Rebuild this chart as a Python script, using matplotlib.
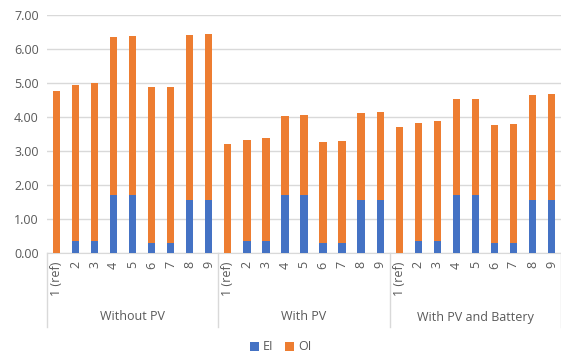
import numpy as np
import matplotlib.pyplot as plt
from matplotlib.transforms import blended_transform_factory

plt.rcParams['font.family'] = ['Open Sans', 'DejaVu Sans']

groups = ["Without PV", "With PV", "With PV and Battery"]
cases = ["1 (ref)", "2", "3", "4", "5", "6", "7", "8", "9"]
ei = [0.00, 0.36, 0.36, 1.71, 1.71, 0.30, 0.30, 1.55, 1.55]
total_no_pv = [4.75, 4.94, 4.99, 6.35, 6.38, 4.87, 4.87, 6.41, 6.44]
total_pv = [3.19, 3.33, 3.39, 4.02, 4.04, 3.27, 3.28, 4.11, 4.15]
total_batt = [3.70, 3.82, 3.89, 4.52, 4.53, 3.76, 3.78, 4.64, 4.67]

EI_COL = '#4472C4'
OI_COL = '#ED7D31'
TXT = '#595959'
GRID = '#D9D9D9'

ei_all = np.array(ei * 3)
tot_all = np.array(total_no_pv + total_pv + total_batt)
oi_all = tot_all - ei_all
labels = cases * 3
x = np.arange(len(labels))

fig = plt.figure(figsize=(5.61, 3.58), dpi=100)
W, H = 561, 358
left, right, top, bottom = 47, 561, 14.7, 253
ax = fig.add_axes([left / W, 1 - bottom / H, (right - left) / W, (bottom - top) / H])

b1 = ax.bar(x, ei_all, width=0.38, color=EI_COL, label='EI', zorder=3)
b2 = ax.bar(x, oi_all, width=0.38, bottom=ei_all, color=OI_COL, label='OI', zorder=3)

ax.set_ylim(0, 7)
ax.set_xlim(-0.5, len(labels) - 0.5)
ax.set_yticks(np.arange(0, 8, 1))
ax.set_yticklabels([f"{v:.2f}" for v in range(8)], color=TXT, fontsize=9)
ax.yaxis.grid(True, color=GRID, linewidth=1, zorder=0)
ax.set_xticks(x)
ax.set_xticklabels(labels, rotation=90, color=TXT, fontsize=9)
ax.tick_params(axis='both', length=0)
ax.tick_params(axis='x', pad=6)
ax.tick_params(axis='y', pad=6)
for s in ['top', 'right', 'left']:
    ax.spines[s].set_visible(False)
ax.spines['bottom'].set_color(GRID)

tr = blended_transform_factory(ax.transData, ax.transAxes)
sep_bottom = (bottom - 327) / (bottom - top)
for k in range(4):
    xs = k * 9 - 0.5
    ax.plot([xs, xs], [0, sep_bottom], transform=tr, color=GRID, lw=1, clip_on=False)
for k, g in enumerate(groups):
    ax.text(k * 9 + 4, (bottom - 317) / (bottom - top), g, transform=tr,
            ha='center', va='center', color=TXT, fontsize=9)

fig.legend(handles=[b1, b2], labels=['EI', 'OI'], loc='center',
           bbox_to_anchor=(0.5, 1 - 347 / H), ncol=2, frameon=False,
           fontsize=9, labelcolor=TXT, handlelength=0.7, handleheight=0.7,
           handletextpad=0.3, columnspacing=1.0)

fig.savefig('out.png', dpi=100)
